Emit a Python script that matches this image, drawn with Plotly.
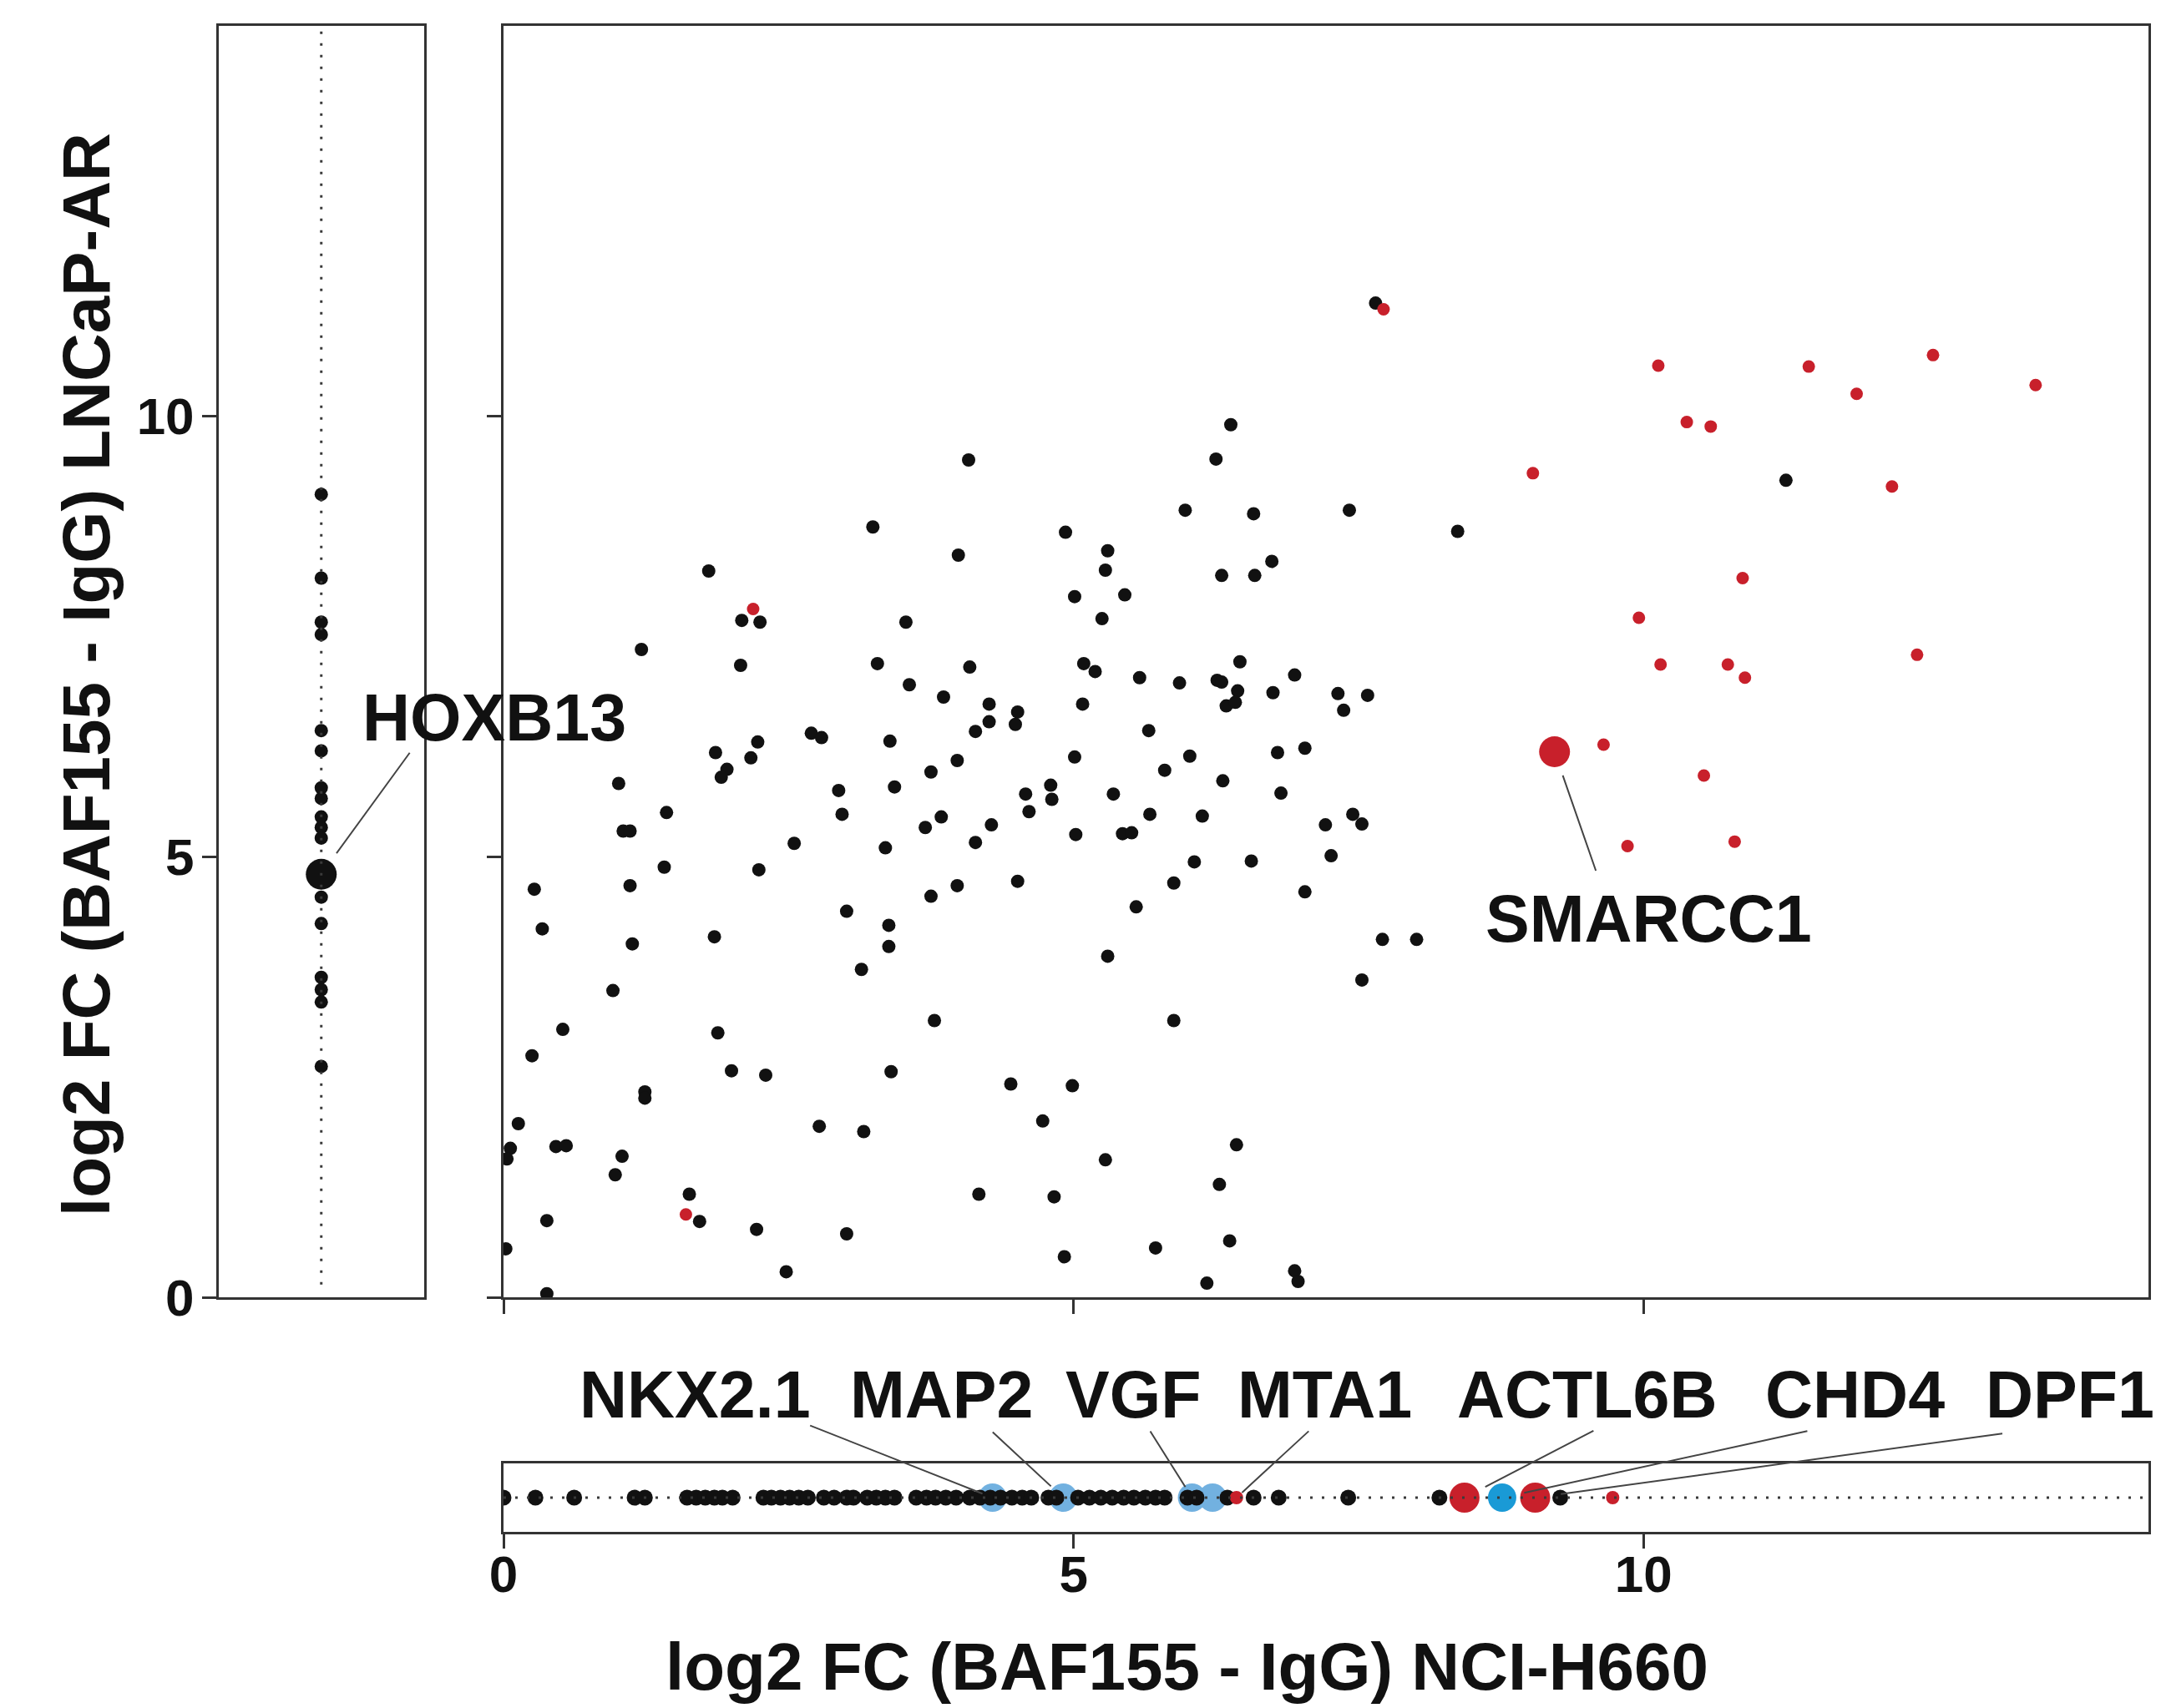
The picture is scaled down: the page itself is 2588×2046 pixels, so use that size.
import plotly.graph_objects as go

# ---------------- data ----------------
# main scatter: genes detected in both (x: NCI-H660, y: LNCaP-AR)
main_black_x = [2.08, 3.28, 3.56, 3.86, 4.09, 4.26, 4.26, 4.14, 4.51, 4.49, 5.09, 5.19, 5.08, 5.58, 5.93, 6.26, 6.30, 6.46,
                6.44, 6.34, 6.42, 6.75, 6.94, 5.66, 2.70, 2.79, 3.39, 2.23, 1.86, 2.17, 1.96, 1.91, 3.98, 5.01, 6.02, 6.79,
                7.03, 3.75, 5.80, 1.01, 2.94, 3.43, 4.58, 4.80, 4.81, 5.35, 6.31, 6.82, 1.43, 2.97, 3.84, 4.61, 5.67, 6.13,
                3.70, 4.28, 1.05, 1.11, 5.02, 5.43, 5.51, 2.55, 4.14, 3.35, 1.41, 2.24, 6.06, 6.56, 0.27, 1.11, 3.98, 4.51,
                5.88, 7.03, 3.75, 5.55, 3.01, 0.34, 3.38, 1.13, 1.85, 3.38, 3.14, 5.30, 0.96, 0.52, 1.88, 3.78, 5.88, 0.25,
                2.00, 2.30, 3.40, 4.45, 4.99, 1.24, 1.24, 0.13, 2.77, 3.16, 4.73, 0.06, 0.03, 0.46, 0.55, 1.04, 6.43, 0.98,
                5.28, 1.63, 1.72, 4.17, 4.83, 6.28, 0.38, 2.22, 3.01, 6.37, 0.02, 5.72, 4.92, 2.48, 6.94, 6.97, 6.17, 0.38,
                6.38, 4.08, 6.25, 5.98, 6.58, 3.24, 4.93, 3.99, 5.30, 5.28, 6.74, 6.30, 6.59, 1.80, 5.01, 5.45, 2.09, 2.25,
                3.53, 5.25, 1.21,
                7.65, 11.25, 7.42, 8.37,
                7.32, 7.58, 7.37, 7.45, 7.53, 7.21, 7.26, 7.71, 8.01, 7.53]
main_black_y = [7.17, 7.19, 6.95, 6.81, 7.15, 6.73, 6.53, 6.42, 6.64, 6.50, 7.19, 7.10, 6.73, 7.03, 6.97, 7.00, 6.98, 7.21,
                6.88, 6.71, 6.75, 6.86, 7.06, 6.43, 6.40, 6.35, 6.31, 6.30, 6.18, 6.12, 5.99, 5.90, 6.09, 6.13, 6.14, 6.18,
                6.23, 5.96, 5.98, 5.83, 5.75, 5.79, 5.71, 5.81, 5.65, 5.71, 5.86, 5.72, 5.50, 5.48, 5.45, 5.51, 5.48, 5.46,
                5.33, 5.36, 5.29, 5.29, 5.25, 5.26, 5.27, 5.15, 5.16, 5.10, 4.88, 4.85, 4.94, 4.95, 4.63, 4.67, 4.67, 4.72,
                4.70, 4.60, 4.55, 4.43, 4.38, 4.18, 4.22, 4.01, 4.09, 3.98, 3.72, 3.87, 3.48, 3.04, 3.00, 3.14, 3.14, 2.74,
                2.57, 2.52, 2.56, 2.42, 2.40, 2.33, 2.26, 1.97, 1.94, 1.88, 2.00, 1.69, 1.57, 1.71, 1.72, 1.60, 1.73, 1.39,
                1.56, 1.17, 0.86, 1.17, 1.14, 1.28, 0.87, 0.77, 0.72, 0.64, 0.55, 0.56, 0.46, 0.29, 0.30, 0.18, 0.16, 0.04,
                9.90, 9.50, 9.51, 8.93, 8.89, 8.74, 8.68, 8.42, 8.47, 8.25, 8.35, 8.19, 8.19, 8.24, 7.95, 7.97, 7.68, 7.66,
                7.66, 7.70, 7.35,
                11.28, 9.27, 8.93, 8.69,
                6.85, 6.83, 6.66, 5.48, 5.37, 5.36, 5.01, 4.06, 4.06, 3.60]

main_red_x = [7.72, 10.13, 11.45, 12.54, 13.44, 11.87, 10.38, 10.59, 9.03, 12.18, 10.87, 9.96, 10.15, 10.74, 10.89,
              12.40, 9.65, 10.53, 9.86, 10.80, 2.19, 1.60]
main_red_y = [11.21, 10.57, 10.56, 10.69, 10.35, 10.25, 9.93, 9.88, 9.35, 9.20, 8.16, 7.71, 7.18, 7.18, 7.03,
              7.29, 6.27, 5.92, 5.12, 5.17, 7.81, 0.94]

smarcc1_x = [9.22]
smarcc1_y = [6.19]

# left strip: detected only in LNCaP-AR
left_black_y = [9.11, 8.16, 7.66, 7.52, 6.43, 6.20, 5.78, 5.66, 5.45, 5.33, 5.21, 4.54, 4.24, 3.63, 3.49, 3.35, 2.62]
hoxb13_y = [4.80]

# bottom strip: detected only in NCI-H660
strip_black_x = [0.00, 0.28, 0.62, 1.15, 1.24, 1.61, 1.69, 1.77, 1.85, 1.92, 2.01, 2.28, 2.35, 2.43, 2.51, 2.59,
                 2.67, 2.81, 2.90, 3.01, 3.07, 3.19, 3.27, 3.35, 3.43, 3.62, 3.71, 3.79, 3.88, 3.97, 4.09, 4.18,
                 4.27, 4.36, 4.46, 4.55, 4.63, 4.78, 4.85, 5.04, 5.14, 5.24, 5.34, 5.44, 5.53, 5.63, 5.72, 5.80,
                 6.00, 6.08, 6.35, 6.58, 6.80, 7.41, 8.21, 9.27]
strip_red_small_x = [6.43, 9.73]
strip_red_big_x = [8.43, 9.05]
strip_blue_big_x = [8.76]
strip_lightblue_x = [4.29, 4.91, 6.04, 6.22]

# labels: (text, axis, target x, target y, line tail dx, dy [px], standoff, text dx, dy [px])
labels = [
    ("HOXB13", "2", 0, hoxb13_y[0], 107, -147, 31, 207, 188),
    ("SMARCC1", "", smarcc1_x[0], smarcc1_y[0], 50, 144, 30, 113, -200),
    ("NKX2.1", "3", strip_lightblue_x[0], 0, -220, -87, 13, -356, 124),
    ("MAP2", "3", strip_lightblue_x[1], 0, -86, -80, 20, -145, 124),
    ("VGF", "3", strip_lightblue_x[2], 0, -51, -81, 15, -71, 124),
    ("MTA1", "3", strip_red_small_x[0], 0, 88, -81, 9, 106, 124),
    ("ACTL6B", "3", strip_red_big_x[0], 0, 156, -81, 28, 147, 124),
    ("CHD4", "3", strip_blue_big_x[0], 0, 367, -80, 27, 423, 124),
    ("DPF1", "3", strip_red_big_x[1], 0, 561, -77, 31, 640, 124),
]

x_title = "log2 FC (BAF155 - IgG) NCI-H660"
y_title = "log2 FC (BAF155 - IgG) LNCaP-AR"
tick_vals = [0, 5, 10]

# ---------------- style ----------------
W, H = 2588, 2046
BLACK = "#111111"
RED = "#c8202b"
BLUE = "#1a9ad6"
LIGHTBLUE = "#72b1e0"
AXC = "#333333"
FONT = "Liberation Sans"
RMAX = 14.43

fig = go.Figure()

def mk(size, color):
    return dict(size=size, color=color, line=dict(width=0))

# main
fig.add_trace(go.Scatter(x=main_black_x, y=main_black_y, mode="markers", marker=mk(16, BLACK),
                         xaxis="x", yaxis="y", showlegend=False))
fig.add_trace(go.Scatter(x=main_red_x, y=main_red_y, mode="markers", marker=mk(15, RED),
                         xaxis="x", yaxis="y", showlegend=False))
fig.add_trace(go.Scatter(x=smarcc1_x, y=smarcc1_y, mode="markers", marker=mk(37, RED),
                         xaxis="x", yaxis="y", showlegend=False))
# left strip
fig.add_trace(go.Scatter(x=[0] * len(left_black_y), y=left_black_y, mode="markers", marker=mk(16, BLACK),
                         xaxis="x2", yaxis="y2", showlegend=False))
fig.add_trace(go.Scatter(x=[0], y=hoxb13_y, mode="markers", marker=mk(37, BLACK),
                         xaxis="x2", yaxis="y2", showlegend=False))
# bottom strip
fig.add_trace(go.Scatter(x=strip_lightblue_x, y=[0] * len(strip_lightblue_x), mode="markers",
                         marker=mk(34, LIGHTBLUE), xaxis="x3", yaxis="y3", showlegend=False))
fig.add_trace(go.Scatter(x=strip_black_x, y=[0] * len(strip_black_x), mode="markers", marker=mk(19, BLACK),
                         xaxis="x3", yaxis="y3", showlegend=False))
fig.add_trace(go.Scatter(x=strip_red_small_x, y=[0] * len(strip_red_small_x), mode="markers", marker=mk(16, RED),
                         xaxis="x3", yaxis="y3", showlegend=False))
fig.add_trace(go.Scatter(x=strip_red_big_x, y=[0] * len(strip_red_big_x), mode="markers", marker=mk(36, RED),
                         xaxis="x3", yaxis="y3", showlegend=False))
fig.add_trace(go.Scatter(x=strip_blue_big_x, y=[0] * len(strip_blue_big_x), mode="markers", marker=mk(34, BLUE),
                         xaxis="x3", yaxis="y3", showlegend=False))

px = lambda v: v / W
py = lambda v: 1 - v / H
main_xdom = [px(603), px(2573)]
main_ydom = [py(1554), py(30.5)]
left_xdom = [px(262), px(507.5)]
strip_ydom = [py(1835), py(1753)]

tickfont = dict(family=FONT, size=62, color=BLACK, weight="bold")
common = dict(showline=True, linecolor=AXC, linewidth=3, mirror=True, showgrid=False, zeroline=False,
              tickcolor=AXC, tickwidth=3, ticklen=17, automargin=False)

fig.update_layout(
    template="none",
    width=W, height=H, margin=dict(l=0, r=0, t=0, b=0, pad=0, autoexpand=False),
    paper_bgcolor="white", plot_bgcolor="white",
    xaxis=dict(domain=main_xdom, range=[0, RMAX], anchor="y", ticks="outside", tickvals=tick_vals,
               showticklabels=False, **common),
    yaxis=dict(domain=main_ydom, range=[0, RMAX], anchor="x", ticks="outside", tickvals=tick_vals,
               showticklabels=False, **common),
    xaxis2=dict(domain=left_xdom, range=[-1, 1], anchor="y2", ticks="", showticklabels=False, **common),
    yaxis2=dict(domain=main_ydom, range=[0, RMAX], anchor="x2", ticks="outside", tickvals=tick_vals,
                tickfont=tickfont, ticklabelstandoff=-3, **common),
    xaxis3=dict(domain=main_xdom, range=[0, RMAX], anchor="y3", ticks="outside", tickvals=tick_vals,
                tickfont=tickfont, ticklabelstandoff=-22, **common),
    yaxis3=dict(domain=strip_ydom, range=[-1, 1], anchor="x3", ticks="", showticklabels=False, **common),
)

# dotted reference lines through the strips
fig.add_shape(type="line", xref="x2", yref="y2 domain", x0=0, x1=0, y0=0.01, y1=1, layer="above",
              line=dict(color="#3a3a3a", width=3, dash="3px,11px"))
fig.add_shape(type="line", xref="x3 domain", yref="y3", x0=0, x1=1, y0=0, y1=0, layer="above",
              line=dict(color="#3a3a3a", width=3, dash="3px,11px"))

labfont = dict(family=FONT, size=79, color=BLACK, weight="bold")
for text, ax_id, tx, ty, dx, dy, stand, tdx, tdy in labels:
    xr = "x" + ax_id
    yr = "y" + ax_id
    fig.add_annotation(x=tx, y=ty, xref=xr, yref=yr, text="", showarrow=True, arrowhead=0,
                       arrowwidth=2, arrowcolor="#444444", ax=dx, ay=dy, axref="pixel", ayref="pixel",
                       standoff=stand)
    fig.add_annotation(x=tx, y=ty, xref=xr, yref=yr, text=text, showarrow=False, xshift=tdx, yshift=tdy,
                       font=labfont, xanchor="center", yanchor="middle")

titlefont = dict(family=FONT, size=80, color=BLACK, weight="bold")
fig.add_annotation(x=px(1422), y=py(1996), xref="paper", yref="paper", text=x_title, showarrow=False,
                   font=titlefont, xanchor="center", yanchor="middle")
fig.add_annotation(x=px(103), y=py(808), xref="paper", yref="paper", text=y_title, showarrow=False,
                   font=titlefont, textangle=-90, xanchor="center", yanchor="middle")

fig.write_html("out.html")
